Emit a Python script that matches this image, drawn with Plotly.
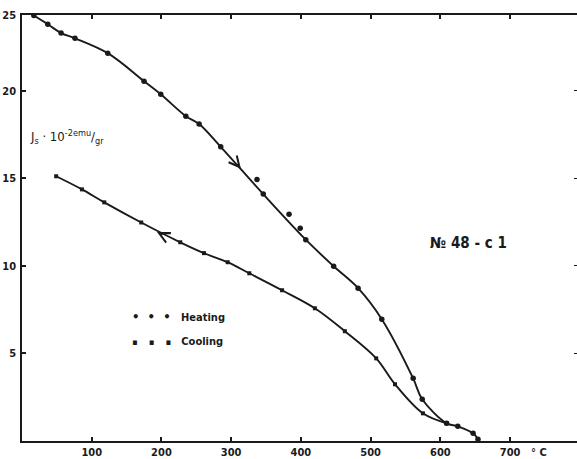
import plotly.graph_objects as go

# Heating (dots): temperature in °C, Js in 10^-2 emu/gr
heat_T = [17, 37, 56, 76, 123, 175, 199, 235, 254, 285, 337, 346, 383, 399, 407,
          447, 482, 516, 561, 574, 609, 625, 647, 654]
heat_J = [24.3, 23.8, 23.3, 23.0, 22.15, 20.55, 19.8, 18.55, 18.1, 16.8, 14.94, 14.1,
          12.95, 12.15, 11.5, 9.98, 8.73, 6.96, 3.58, 2.38, 1.01, 0.84, 0.44, 0.1]
# which heating points the hand-drawn curve passes through (others scatter off it)
heat_on_curve = [1, 1, 1, 1, 1, 1, 1, 1, 1, 1, 0, 1,
                 0, 0, 1, 1, 1, 1, 1, 1, 1, 1, 1, 1]

# Cooling (squares)
cool_T = [609, 575, 535, 508, 463, 420, 373, 326, 295, 261, 227, 171, 118, 86, 49]
cool_J = [1.01, 1.58, 3.24, 4.72, 6.27, 7.58, 8.61, 9.58, 10.21, 10.73, 11.35,
          12.48, 13.63, 14.37, 15.12]

# Direction arrows on the curves (tip position, direction in pixels)
arrow_T = [314, 193.6]
arrow_J = [15.55, 11.93]
arrow_dx = [-5, 7]
arrow_dy = [-6, 3.5]

x_ticks = [100, 200, 300, 400, 500, 600, 700]
y_ticks = [5, 10, 15, 20, 24.33]
y_ticktext = ["5", "10", "15", "20", "25"]

FONT = "DejaVu Sans Condensed, DejaVu Sans, Liberation Sans, sans-serif"
INK = "#1a1a1a"

curve_T = [t for t, k in zip(heat_T, heat_on_curve) if k]
curve_J = [j for j, k in zip(heat_J, heat_on_curve) if k]

fig = go.Figure()

fig.add_trace(go.Scatter(
    x=curve_T, y=curve_J, mode="lines",
    line=dict(color=INK, width=1.9, shape="spline", smoothing=1.0),
    showlegend=False, hoverinfo="skip"))
fig.add_trace(go.Scatter(
    x=heat_T, y=heat_J, mode="markers",
    marker=dict(symbol="circle", size=5.5, color=INK),
    showlegend=False, hoverinfo="skip"))

fig.add_trace(go.Scatter(
    x=cool_T, y=cool_J, mode="lines+markers",
    line=dict(color=INK, width=1.9, shape="spline", smoothing=1.0),
    marker=dict(symbol="square", size=4, color=INK),
    showlegend=False, hoverinfo="skip"))

# right-hand tick marks (no line), as on the original sheet
fig.add_trace(go.Scatter(x=[], y=[], yaxis="y2", showlegend=False, hoverinfo="skip"))

for t, j, dx, dy in zip(arrow_T, arrow_J, arrow_dx, arrow_dy):
    fig.add_annotation(
        x=t, y=j, xref="x", yref="y", ax=dx, ay=dy, axref="pixel", ayref="pixel",
        text="", showarrow=True, arrowhead=5, arrowsize=1.3, arrowwidth=1.6,
        arrowcolor=INK, standoff=0, startstandoff=0)

fig.add_annotation(
    x=8, y=17.35, xref="x", yref="y", xanchor="left", yanchor="middle",
    text="J<sub>s</sub> · 10<sup>-2emu</sup>/<sub>gr</sub>", showarrow=False,
    font=dict(family=FONT, size=13, color=INK))

fig.add_annotation(
    x=640, y=11.3, xref="x", yref="y", xanchor="center", yanchor="middle",
    text="<b>№ 48 - c 1</b>", showarrow=False,
    font=dict(family=FONT, size=15, color=INK))

fig.add_annotation(
    x=155, y=7.1, xref="x", yref="y", xanchor="left", yanchor="middle",
    text="<b><span style='font-size:13px'>•  •  •</span>   Heating</b>", showarrow=False,
    font=dict(family=FONT, size=11, color=INK))
fig.add_annotation(
    x=155, y=5.7, xref="x", yref="y", xanchor="left", yanchor="middle",
    text="<b><span style='font-size:9px'>▪    ▪    ▪</span>   Cooling</b>", showarrow=False,
    font=dict(family=FONT, size=11, color=INK))

fig.add_annotation(
    x=742, y=0, xref="x", yref="paper", xanchor="center", yanchor="top",
    yshift=-3, text="<b>° C</b>", showarrow=False,
    font=dict(family=FONT, size=11, color=INK))

fig.update_layout(
    width=577, height=459,
    margin=dict(l=22, r=0, t=15, b=18),
    paper_bgcolor="white", plot_bgcolor="white",
    font=dict(family=FONT, size=11, color=INK),
    xaxis=dict(range=[0, 796], tickvals=x_ticks, ticks="inside", ticklen=4,
               tickwidth=1.5, tickcolor=INK, showline=True, linecolor=INK,
               linewidth=1.5, mirror="ticks", showgrid=False, zeroline=False,
               tickfont=dict(family=FONT, size=11, color=INK, weight="bold")),
    yaxis=dict(range=[0, 24.33], tickvals=y_ticks, ticktext=y_ticktext,
               ticks="inside", ticklen=4, tickwidth=1.5, tickcolor=INK,
               showline=True, linecolor=INK, linewidth=1.5, mirror=False,
               showgrid=False, zeroline=False, ticklabelstandoff=2,
               tickfont=dict(family=FONT, size=11, color=INK, weight="bold")),
    yaxis2=dict(range=[0, 24.33], tickvals=y_ticks[:-1], overlaying="y",
                side="right", ticks="inside", ticklen=3, tickwidth=1.2,
                tickcolor=INK, showline=False, showgrid=False, zeroline=False,
                showticklabels=False),
)

fig.write_html(
    "out.html",
    config={"displayModeBar": False},
    post_script="document.body.style.margin='0';document.body.style.overflow='hidden';")
